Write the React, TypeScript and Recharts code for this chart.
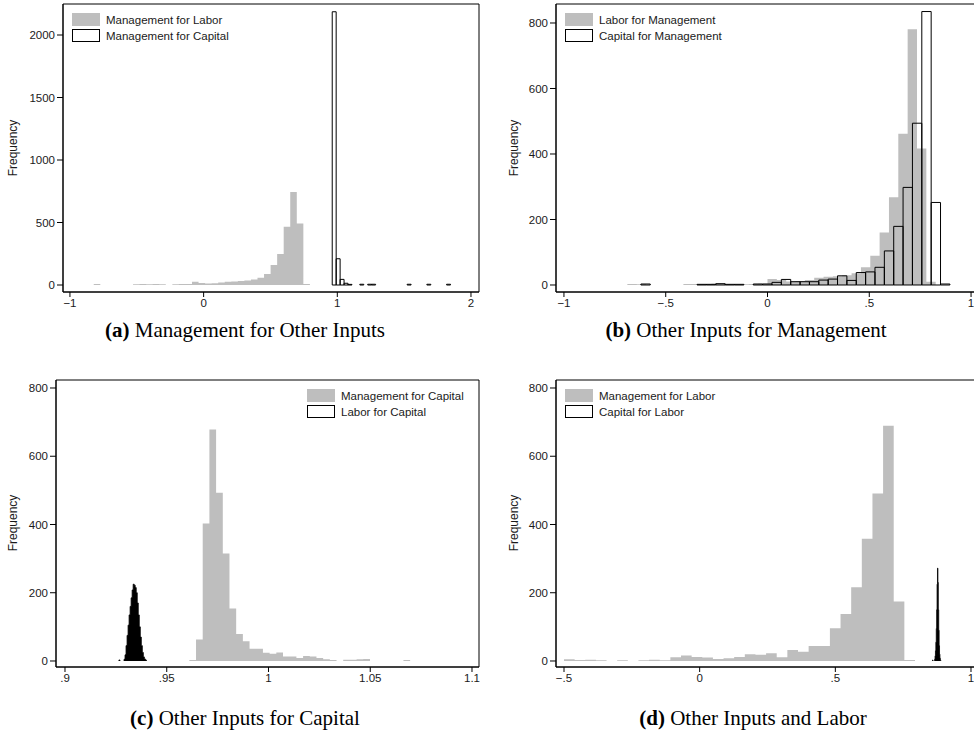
import React from "react";
import { ComposedChart, Area, XAxis, YAxis, ReferenceArea } from "recharts";

const GREY = "#bebebe";
const INK = "#000";
const SANS = "'Liberation Sans', Arial, sans-serif";
const SERIF = "'Liberation Serif', 'Times New Roman', serif";

// (a) Management for Other Inputs
const aLaborStart = -0.822;
const aLaborBin = 0.049;
const aLaborCounts = [
  8, 0, 0, 0, 0, 0, 7, 8, 7, 8, 6, 0, 7, 8, 9, 27, 16, 13, 14, 21, 27, 29, 32,
  37, 45, 59, 88, 160, 248, 467, 745, 493, 8,
];
const aCapitalStart = 0.962;
const aCapitalBin = 0.0295;
const aCapitalCounts = [
  2186, 210, 45, 14, 5, 0, 0, 6, 0, 6, 6, 0, 0, 0, 0, 0, 0, 0, 0, 6, 0, 0, 0, 0,
  6, 0, 0, 0, 0, 6,
];
const aXTicks = [-1, 0, 1, 2];
const aXLabels = ["\u22121", "0", "1", "2"];
const aYTicks = [0, 500, 1000, 1500, 2000];

// (b) Other Inputs for Management
const bLaborStart = -0.6885;
const bLaborBin = 0.0459;
const bLaborCounts = [
  3, 2, 0, 0, 0, 0, 3, 3, 3, 4, 3, 2, 2, 3, 4, 18, 15, 11, 12, 15, 22, 25, 27,
  30, 36, 54, 89, 160, 268, 462, 781, 417, 10,
];
const bCapitalStart = -0.622;
const bCapitalBin = 0.046;
const bCapitalCounts = [
  3, 0, 0, 0, 0, 0, 2, 2, 4, 2, 2, 0, 3, 3, 8, 17, 10, 10, 10, 15, 18, 28, 14,
  38, 40, 54, 104, 179, 298, 494, 835, 252, 3,
];
const bXTicks = [-1, -0.5, 0, 0.5, 1];
const bXLabels = ["\u22121", "\u2212.5", "0", ".5", "1"];
const bYTicks = [0, 200, 400, 600, 800];

// (c) Other Inputs for Capital
const cMgmtStart = 0.9611;
const cMgmtBin = 0.003288;
const cMgmtCounts = [
  3, 63, 403, 678, 493, 315, 154, 79, 58, 36, 36, 24, 21, 25, 13, 13, 9, 15, 13,
  9, 5, 3, 0, 4, 4, 5, 6, 0, 0, 0, 0, 0, 3,
];
const cLaborStart = 0.9265;
const cLaborBin = 0.0005;
const cLaborCounts = [
  3, 0, 0, 0, 0, 5, 18, 45, 75, 105, 135, 160, 185, 208, 225, 222, 215, 200,
  170, 135, 100, 70, 45, 25, 12, 6, 3,
];
const cXTicks = [0.9, 0.95, 1, 1.05, 1.1];
const cXLabels = [".9", ".95", "1", "1.05", "1.1"];
const cYTicks = [0, 200, 400, 600, 800];

// (d) Other Inputs and Labor
const dMgmtStart = -0.5;
const dMgmtBin = 0.0392;
const dMgmtCounts = [
  5, 3, 4, 2, 0, 2, 0, 2, 4, 2, 11, 16, 12, 10, 6, 8, 12, 20, 18, 23, 11, 32,
  27, 44, 44, 96, 138, 216, 358, 491, 689, 174, 3,
];
const dCapitalStart = 0.8585;
const dCapitalBin = 0.0015;
const dCapitalCounts = [
  3, 0, 0, 0, 0, 5, 15, 30, 55, 95, 150, 225, 272, 230, 150, 90, 45, 20, 8, 3,
];
const dXTicks = [-0.5, 0, 0.5, 1];
const dXLabels = ["\u2212.5", "0", ".5", "1"];
const dYTicks = [0, 200, 400, 600, 800];

type Pt = { x: number; v: number | null };
type Kind = "filled" | "outline" | "solid";
type Series = { name: string; kind: Kind; data: Pt[] };

// step outline of the bar tops, closed at the baseline by the area fill
const filledBins = (start: number, bin: number, counts: number[]): Pt[] => {
  const pts: Pt[] = counts.map((c, i) => ({ x: start + i * bin, v: c }));
  pts.push({ x: start + counts.length * bin, v: 0 });
  return pts;
};

// runs of non-empty bins only, so a stroke never runs along the baseline
const solidBins = (start: number, bin: number, counts: number[]): Pt[] => {
  const pts: Pt[] = [];
  counts.forEach((c, i) => {
    if (c <= 0) return;
    const l = start + i * bin;
    if (i === 0 || counts[i - 1] <= 0) pts.push({ x: l, v: 0 });
    pts.push({ x: l, v: c });
    if (i === counts.length - 1 || counts[i + 1] <= 0) {
      pts.push({ x: l + bin, v: 0 }, { x: l + bin, v: null });
    }
  });
  return pts;
};

// each bar drawn as its own closed rectangle, broken apart by nulls
const outlinedBins = (start: number, bin: number, counts: number[]): Pt[] => {
  const pts: Pt[] = [];
  counts.forEach((c, i) => {
    if (c <= 0) return;
    const l = start + i * bin;
    const r = l + bin;
    pts.push(
      { x: l, v: 0 },
      { x: l, v: c },
      { x: r, v: 0 },
      { x: l, v: 0 },
      { x: l, v: null }
    );
  });
  return pts;
};

interface PanelProps {
  left: number;
  top: number;
  width: number;
  height: number;
  axisWidth: number;
  marginTop: number;
  xDomain: [number, number];
  yDomain: [number, number];
  xTicks: number[];
  xLabels: string[];
  yTicks: number[];
  series: Series[];
}

const tickStyle = { fill: "#1a1a1a", fontSize: 11.5, fontFamily: SANS };

const Panel = (p: PanelProps) => (
  <div style={{ position: "absolute", left: p.left, top: p.top }}>
    <ComposedChart
      width={p.width}
      height={p.height}
      margin={{ top: p.marginTop, right: 8, bottom: 0, left: 0 }}
    >
      <XAxis
        type="number"
        dataKey="x"
        domain={p.xDomain}
        ticks={p.xTicks}
        interval={0}
        allowDataOverflow
        height={24}
        tickSize={5}
        tickMargin={2}
        stroke={INK}
        tick={tickStyle}
        tickFormatter={(v: number) => p.xLabels[p.xTicks.indexOf(v)] ?? String(v)}
      />
      <YAxis
        type="number"
        domain={p.yDomain}
        ticks={p.yTicks}
        interval={0}
        allowDataOverflow
        width={p.axisWidth}
        tickSize={6}
        tickMargin={2}
        stroke={INK}
        tick={tickStyle}
      />
      <ReferenceArea
        x1={p.xDomain[0]}
        x2={p.xDomain[1]}
        y1={p.yDomain[0]}
        y2={p.yDomain[1]}
        fill="none"
        stroke={INK}
        strokeWidth={1}
        ifOverflow="visible"
      />
      {p.series.map((s) => (
        <Area
          key={s.name}
          name={s.name}
          data={s.data}
          dataKey="v"
          type="stepAfter"
          fill={s.kind === "filled" ? GREY : s.kind === "solid" ? INK : "none"}
          fillOpacity={1}
          stroke={s.kind === "filled" ? "none" : INK}
          strokeWidth={s.kind === "solid" ? 0.8 : 1}
          connectNulls={false}
          dot={false}
          activeDot={false}
          isAnimationActive={false}
        />
      ))}
    </ComposedChart>
  </div>
);

interface LegendSpec {
  x: number;
  y: number;
  items: string[];
}

const LegendBox = ({ x, y, items }: LegendSpec) => (
  <g>
    {items.map((name, i) => (
      <g key={name}>
        <rect
          x={x + 0.5}
          y={y + i * 16 + 0.5}
          width={27}
          height={12}
          fill={i === 0 ? GREY : "#fff"}
          stroke={i === 0 ? GREY : INK}
        />
        <text
          x={x + 34}
          y={y + i * 16 + 6.5}
          dominantBaseline="central"
          fontFamily={SANS}
          fontSize={11.5}
          fill="#1a1a1a"
        >
          {name}
        </text>
      </g>
    ))}
  </g>
);

const FreqLabel = ({ x, y }: { x: number; y: number }) => (
  <text
    x={x}
    y={y}
    transform={`rotate(-90 ${x} ${y})`}
    textAnchor="middle"
    dominantBaseline="central"
    fontFamily={SANS}
    fontSize={12}
    fill="#1a1a1a"
  >
    Frequency
  </text>
);

const Caption = ({ x, y, tag, text }: { x: number; y: number; tag: string; text: string }) => (
  <text
    x={x}
    y={y}
    textAnchor="middle"
    dominantBaseline="central"
    fontFamily={SERIF}
    fontSize={21}
    fill="#000"
  >
    <tspan fontWeight="bold">{tag}</tspan>
    {" " + text}
  </text>
);

export default function App() {
  return (
    <div
      style={{
        position: "absolute",
        left: 0,
        top: 0,
        width: 974,
        height: 745,
        overflow: "hidden",
        background: "#fff",
      }}
    >
      <Panel
        left={0}
        top={0}
        width={487}
        height={316}
        axisWidth={63}
        marginTop={4}
        xDomain={[-1.052, 2.06]}
        yDomain={[-56, 2248]}
        xTicks={aXTicks}
        xLabels={aXLabels}
        yTicks={aYTicks}
        series={[
          { name: "Management for Labor", kind: "filled", data: filledBins(aLaborStart, aLaborBin, aLaborCounts) },
          { name: "Management for Capital", kind: "outline", data: outlinedBins(aCapitalStart, aCapitalBin, aCapitalCounts) },
        ]}
      />
      <Panel
        left={487}
        top={0}
        width={500}
        height={316}
        axisWidth={69}
        marginTop={4}
        xDomain={[-1.039, 1.039]}
        yDomain={[-21.4, 858]}
        xTicks={bXTicks}
        xLabels={bXLabels}
        yTicks={bYTicks}
        series={[
          { name: "Labor for Management", kind: "filled", data: filledBins(bLaborStart, bLaborBin, bLaborCounts) },
          { name: "Capital for Management", kind: "outline", data: outlinedBins(bCapitalStart, bCapitalBin, bCapitalCounts) },
        ]}
      />
      <Panel
        left={0}
        top={370}
        width={487}
        height={321}
        axisWidth={56}
        marginTop={10}
        xDomain={[0.89558, 1.10344]}
        yDomain={[-17.6, 823.4]}
        xTicks={cXTicks}
        xLabels={cXLabels}
        yTicks={cYTicks}
        series={[
          { name: "Management for Capital", kind: "filled", data: filledBins(cMgmtStart, cMgmtBin, cMgmtCounts) },
          { name: "Labor for Capital", kind: "solid", data: solidBins(cLaborStart, cLaborBin, cLaborCounts) },
        ]}
      />
      <Panel
        left={487}
        top={370}
        width={500}
        height={321}
        axisWidth={69}
        marginTop={10}
        xDomain={[-0.5295, 1.0295]}
        yDomain={[-17.6, 823.4]}
        xTicks={dXTicks}
        xLabels={dXLabels}
        yTicks={dYTicks}
        series={[
          { name: "Management for Labor", kind: "filled", data: filledBins(dMgmtStart, dMgmtBin, dMgmtCounts) },
          { name: "Capital for Labor", kind: "solid", data: solidBins(dCapitalStart, dCapitalBin, dCapitalCounts) },
        ]}
      />
      <svg
        width={974}
        height={745}
        style={{ position: "absolute", left: 0, top: 0, pointerEvents: "none" }}
      >
        <LegendBox x={72} y={13} items={["Management for Labor", "Management for Capital"]} />
        <LegendBox x={565} y={13} items={["Labor for Management", "Capital for Management"]} />
        <LegendBox x={307} y={389} items={["Management for Capital", "Labor for Capital"]} />
        <LegendBox x={565} y={389} items={["Management for Labor", "Capital for Labor"]} />
        <FreqLabel x={13} y={148} />
        <FreqLabel x={514} y={148} />
        <FreqLabel x={13} y={523} />
        <FreqLabel x={514} y={523} />
        <Caption x={245} y={330} tag="(a)" text="Management for Other Inputs" />
        <Caption x={746} y={330} tag="(b)" text="Other Inputs for Management" />
        <Caption x={245} y={718} tag="(c)" text="Other Inputs for Capital" />
        <Caption x={753} y={718} tag="(d)" text="Other Inputs and Labor" />
      </svg>
    </div>
  );
}
